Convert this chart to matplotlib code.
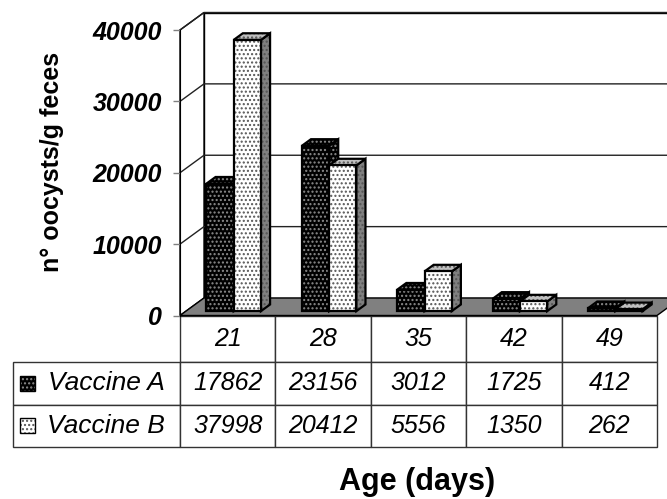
import matplotlib
matplotlib.use("Agg")
import matplotlib.pyplot as plt
from matplotlib.patches import Polygon, Rectangle
import numpy as np

plt.rcParams.update({"font.family": "Liberation Sans", "hatch.linewidth": 1.0})

# data
ages = ["21", "28", "35", "42", "49"]
series = ["Vaccine A", "Vaccine B"]
vaccine_a = [17862, 23156, 3012, 1725, 412]
vaccine_b = [37998, 20412, 5556, 1350, 262]
yticks = [0, 10000, 20000, 30000, 40000]

W, H = 667, 499
fig = plt.figure(figsize=(W / 100, H / 100), dpi=100)
# front plane of the 3d box, pixel geometry of the reference
left, right, y0, ytop = 180, 657, 315.5, 30
ax = fig.add_axes([left / W, (H - y0) / H, (right - left) / W, (y0 - ytop) / H])
ax.set_xlim(-0.5, 4.5)
ax.set_ylim(0, 40000)

axw, axh = right - left, y0 - ytop   # axes size in px
px_x = axw / 5.0                     # px per category
px_y = axh / 40000.0                 # px per unit
Dx = 24 / px_x                       # depth offset in data units
Dy = 17.5 / px_y

k = dict(clip_on=False)
# side wall, back wall, floor
ax.add_patch(Polygon([(-0.5 + Dx, Dy), (4.5 + Dx, Dy), (4.5 + Dx, 40000 + Dy), (-0.5 + Dx, 40000 + Dy)],
                     fc="white", ec="black", lw=1, zorder=0.5, **k))
ax.add_patch(Polygon([(-0.5, 0), (-0.5 + Dx, Dy), (-0.5 + Dx, 40000 + Dy), (-0.5, 40000)],
                     fc="white", ec="black", lw=1, zorder=0.5, **k))
for v in yticks[1:]:
    ax.plot([-0.5, -0.5 + Dx, 4.5 + Dx], [v, v + Dy, v + Dy], color="#222222", lw=1, zorder=1, **k)
ax.add_patch(Polygon([(-0.5, 0), (4.5, 0), (4.5 + Dx, Dy), (-0.5 + Dx, Dy)],
                     fc="#808080", ec="black", lw=1, zorder=1.5, **k))

# bars
w = 1 / 3.5
t0, d = 0.25, 0.38
styles = [  # front, top, side, dot colour
    ("black", "black", "black", "#8c8c8c"),
    ("white", "#c0c0c0", "#808080", "#555555"),
]
x = np.arange(len(ages))
z = 2
hatch = "...."


def face(pts, fc, dot):
    global z
    ax.add_patch(Polygon(pts, fc=fc, ec=dot, lw=0, hatch=hatch, zorder=z, **k))
    ax.add_patch(Polygon(pts, fc="none", ec="black", lw=1.6, joinstyle="miter", zorder=z + 0.01, **k))
    z += 0.02


for i in x:
    for s, vals in enumerate([vaccine_a, vaccine_b]):
        fc, tc, sc, dot = styles[s]
        v = vals[i]
        xl = i + (s - 1) * w + t0 * Dx
        xr = xl + w
        b = t0 * Dy
        top = b + v
        ddx, ddy = d * Dx, d * Dy
        face([(xr, b), (xr + ddx, b + ddy), (xr + ddx, top + ddy), (xr, top)], sc, dot)
        face([(xl, top), (xr, top), (xr + ddx, top + ddy), (xl + ddx, top + ddy)], tc, dot)
        face([(xl, b), (xr, b), (xr, top), (xl, top)], fc, dot)

# axes styling
for sp in ["top", "right", "bottom"]:
    ax.spines[sp].set_visible(False)
ax.spines["left"].set_color("black")
ax.spines["left"].set_zorder(1.6)
ax.set_xticks([])
ax.set_yticks(yticks)
ax.set_yticklabels([str(v) for v in yticks], fontsize=18, fontweight="bold", fontstyle="italic")
ax.tick_params(axis="y", length=5, width=1, color="#808080", pad=8)
ax.patch.set_visible(False)

# data table (bbox covers the data cells only, row labels hang to the left)
tbl_left, tbl_bottom = 13, 447
th = (tbl_bottom - y0) / axh
tab = ax.table(cellText=[[str(v) for v in vaccine_a], [str(v) for v in vaccine_b]],
               rowLabels=series, colLabels=ages, cellLoc="center", rowLoc="right",
               bbox=[0, -th, 1, th])
tab._autoColumns = [c for c in tab._autoColumns if c != -1]  # keep the fixed label width
tab.auto_set_font_size(False)
tab.set_fontsize(18)
for (r, c), cell in tab.get_celld().items():
    cell.set_edgecolor("#333333")
    cell.set_linewidth(1)
    cell.get_text().set_fontstyle("italic")
    cell.set_width(((left - tbl_left) if c == -1 else px_x) / axw)
    cell.set_height((46.5 if r == 0 else 42.5) / axh)
    if c == -1:
        cell.PAD = 0.09
        cell.get_text().set_fontsize(19)

# legend keys in the row labels
row_mid = [383, 425.5]
for s, ym in enumerate(row_mid):
    fc, tc, sc, dot = styles[s]
    for kw in (dict(fc=fc, ec=dot, lw=0, hatch="...."), dict(fc="none", ec="black", lw=1)):
        ax.add_patch(Rectangle(((20 - left) / axw, (y0 - ym - 7.5) / axh), 15 / axw, 15 / axh,
                               transform=ax.transAxes, zorder=10, **kw, **k))

fig.text(52 / W, (H - 161.5) / H, "n° oocysts/g feces", rotation=90, ha="center", va="center",
         fontsize=18, fontweight="bold")
fig.text(417 / W, (H - 490) / H, "Age (days)", ha="center", va="baseline",
         fontsize=22, fontweight="bold")

fig.savefig("out.png", dpi=100)
